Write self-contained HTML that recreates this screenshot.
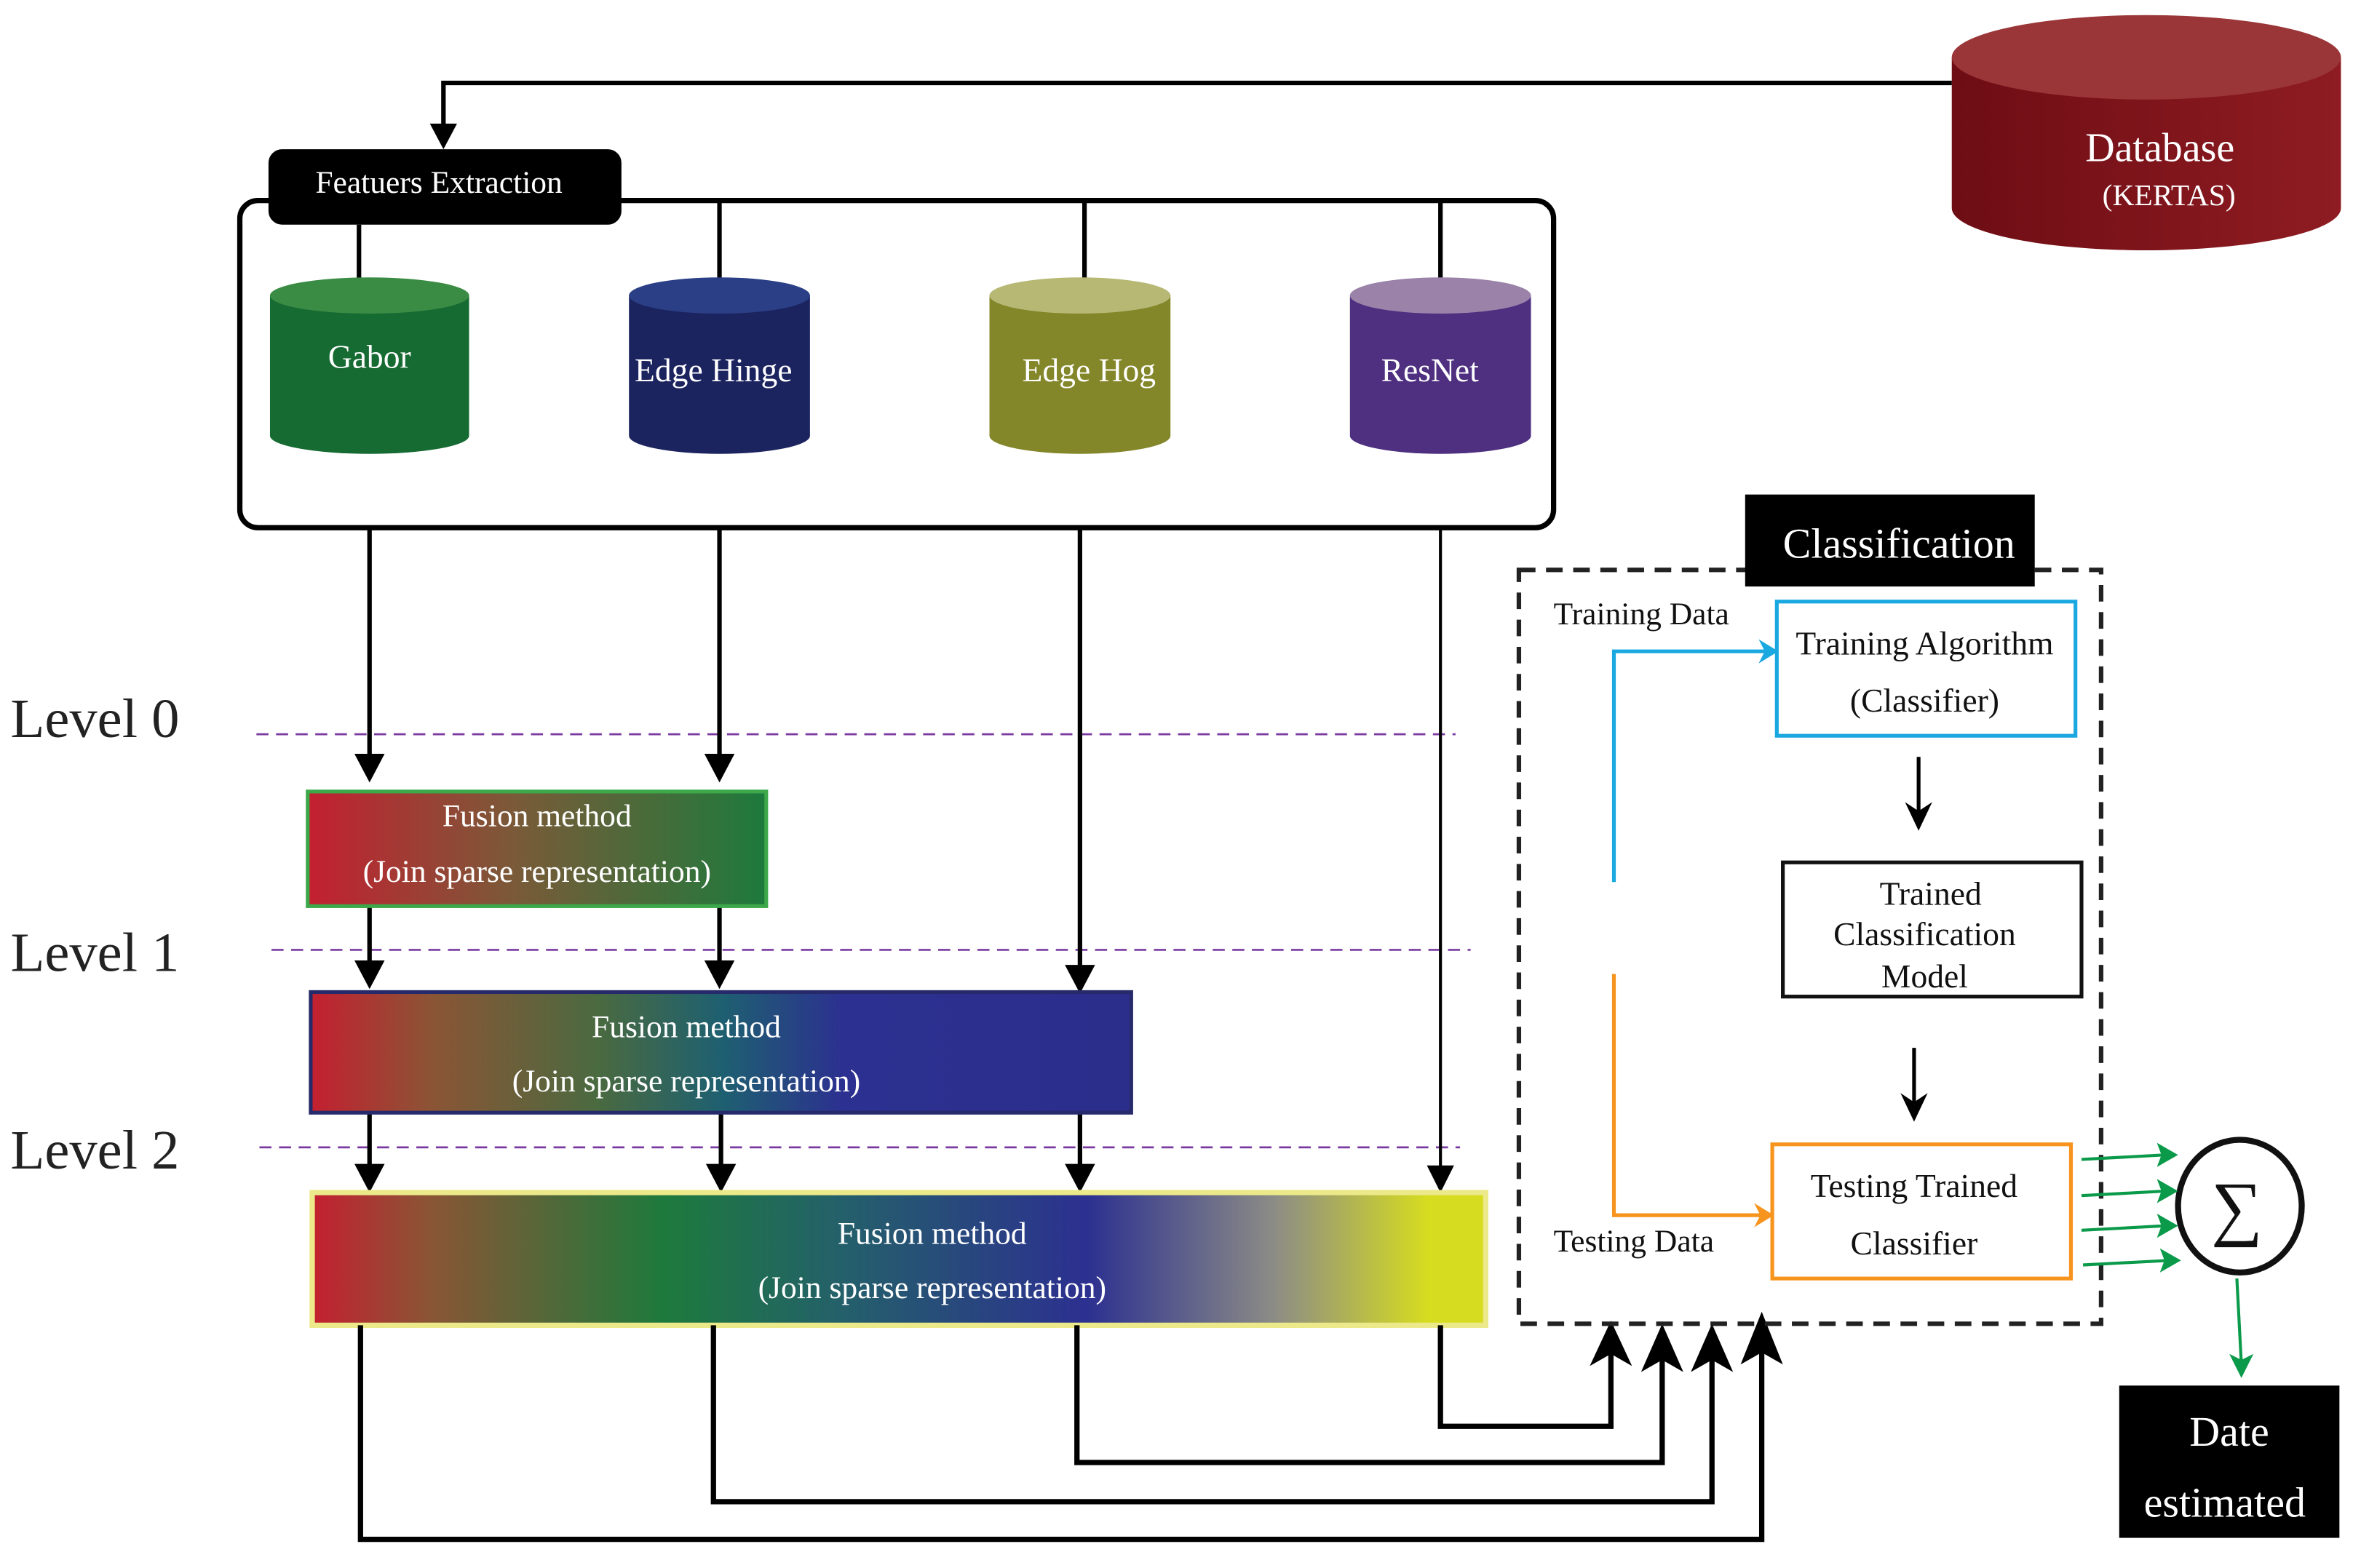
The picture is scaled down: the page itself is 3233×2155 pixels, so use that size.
<!DOCTYPE html>
<html><head><meta charset="utf-8"><style>
html,body{margin:0;padding:0;background:#fff;}
svg{display:block;}
text{font-family:"Liberation Serif",serif;}
</style></head><body>
<svg width="3233" height="2155" viewBox="0 0 1560 1040" preserveAspectRatio="none" xmlns="http://www.w3.org/2000/svg">
<defs>
<linearGradient id="db" x1="0" x2="1"><stop offset="0" stop-color="#6e0d14"/><stop offset="1" stop-color="#8e1c22"/></linearGradient>
<linearGradient id="g1" x1="0" x2="1"><stop offset="0" stop-color="#c41f30"/><stop offset="0.45" stop-color="#7a5a38"/><stop offset="1" stop-color="#1d7a3c"/></linearGradient>
<linearGradient id="g2" x1="0" x2="1"><stop offset="0" stop-color="#c41f30"/><stop offset="0.15" stop-color="#8a5535"/><stop offset="0.35" stop-color="#4a6a40"/><stop offset="0.5" stop-color="#1e6070"/><stop offset="0.65" stop-color="#2c3090"/><stop offset="1" stop-color="#2c2e8c"/></linearGradient>
<linearGradient id="g3" x1="0" x2="1"><stop offset="0" stop-color="#c41f30"/><stop offset="0.1" stop-color="#8a5535"/><stop offset="0.3" stop-color="#1d7a3c"/><stop offset="0.45" stop-color="#24606a"/><stop offset="0.66" stop-color="#2c3090"/><stop offset="0.82" stop-color="#8c8c86"/><stop offset="0.95" stop-color="#d6dc20"/><stop offset="1" stop-color="#d6dc20"/></linearGradient>
</defs>

<path d="M1294,38 L1294,138 A129,28 0 0 0 1552,138 L1552,38 Z" fill="url(#db)"/>
<ellipse cx="1423" cy="38" rx="129" ry="28" fill="#9a3538"/>
<text x="1432" y="107" font-size="27" fill="#fff" text-anchor="middle">Database</text>
<text x="1438" y="136" font-size="20" fill="#fff" text-anchor="middle">(KERTAS)</text>

<polyline points="1294,55 294,55 294,86" fill="none" stroke="#000" stroke-width="3"/>
<polygon points="285,82 303,82 294,99" fill="#000"/>

<rect x="159" y="133" width="871" height="217" rx="12" fill="none" stroke="#000" stroke-width="3.5"/>
<rect x="178" y="99" width="234" height="50" rx="9" fill="#000"/>
<text x="291" y="128" font-size="21" fill="#fff" text-anchor="middle">Featuers Extraction</text>

<g stroke="#000" stroke-width="3">
<line x1="238" y1="149" x2="238" y2="190"/>
<line x1="477" y1="133" x2="477" y2="190"/>
<line x1="719" y1="133" x2="719" y2="190"/>
<line x1="955" y1="133" x2="955" y2="190"/>
</g>

<path d="M179,196 L179,289 A66,12 0 0 0 311,289 L311,196 Z" fill="#166b33"/>
<ellipse cx="245" cy="196" rx="66" ry="12" fill="#3a8c44"/>
<text x="245" y="244" font-size="22" fill="#fff" text-anchor="middle">Gabor</text>

<path d="M417,196 L417,289 A60,12 0 0 0 537,289 L537,196 Z" fill="#1c2460"/>
<ellipse cx="477" cy="196" rx="60" ry="12" fill="#2b3f86"/>
<text x="473" y="253" font-size="22" fill="#fff" text-anchor="middle">Edge Hinge</text>

<path d="M656,196 L656,289 A60,12 0 0 0 776,289 L776,196 Z" fill="#84862a"/>
<ellipse cx="716" cy="196" rx="60" ry="12" fill="#b7b873"/>
<text x="722" y="253" font-size="22" fill="#fff" text-anchor="middle">Edge Hog</text>

<path d="M895,196 L895,289 A60,12 0 0 0 1015,289 L1015,196 Z" fill="#4e2f80"/>
<ellipse cx="955" cy="196" rx="60" ry="12" fill="#9a82a8"/>
<text x="948" y="253" font-size="22" fill="#fff" text-anchor="middle">ResNet</text>

<text x="7" y="489" font-size="37" fill="#222">Level 0</text>
<text x="7" y="644" font-size="37" fill="#222">Level 1</text>
<text x="7" y="775" font-size="37" fill="#222">Level 2</text>
<g stroke="#7a3aa0" stroke-width="1.3" stroke-dasharray="8,5">
<line x1="170" y1="487" x2="965" y2="487"/>
<line x1="180" y1="630" x2="975" y2="630"/>
<line x1="172" y1="761" x2="968" y2="761"/>
</g>

<g stroke="#000" stroke-width="3">
<line x1="245" y1="350" x2="245" y2="505"/>
<line x1="477" y1="350" x2="477" y2="505"/>
<line x1="716" y1="350" x2="716" y2="645"/>
<line x1="955" y1="350" x2="955" y2="778" stroke-width="2"/>
<line x1="245" y1="601" x2="245" y2="642"/>
<line x1="477" y1="601" x2="477" y2="642"/>
<line x1="245" y1="738" x2="245" y2="777"/>
<line x1="478" y1="738" x2="478" y2="777"/>
<line x1="716" y1="738" x2="716" y2="777"/>
</g>
<g fill="#000">
<polygon points="235,500 255,500 245,519"/>
<polygon points="467,500 487,500 477,519"/>
<polygon points="706,640 726,640 716,659"/>
<polygon points="946,773 964,773 955,791"/>
<polygon points="235,637 255,637 245,656"/>
<polygon points="467,637 487,637 477,656"/>
<polygon points="235,772 255,772 245,791"/>
<polygon points="468,772 488,772 478,791"/>
<polygon points="706,772 726,772 716,791"/>
</g>

<rect x="204" y="525" width="304" height="76" fill="url(#g1)" stroke="#3ca84a" stroke-width="2.5"/>
<text x="356" y="548" font-size="21" fill="#fff" text-anchor="middle">Fusion method</text>
<text x="356" y="585" font-size="21" fill="#fff" text-anchor="middle">(Join sparse representation)</text>

<rect x="206" y="658" width="544" height="80" fill="url(#g2)" stroke="#262a6a" stroke-width="2.5"/>
<text x="455" y="688" font-size="21" fill="#fff" text-anchor="middle">Fusion method</text>
<text x="455" y="724" font-size="21" fill="#fff" text-anchor="middle">(Join sparse representation)</text>

<rect x="207" y="791" width="778" height="88" fill="url(#g3)" stroke="#ece98a" stroke-width="3.5"/>
<text x="618" y="825" font-size="21" fill="#fff" text-anchor="middle">Fusion method</text>
<text x="618" y="861" font-size="21" fill="#fff" text-anchor="middle">(Join sparse representation)</text>

<g fill="none" stroke="#000" stroke-width="3.5">
<polyline points="955,879 955,946 1068,946 1068,890"/>
<polyline points="714,879 714,970 1102,970 1102,890"/>
<polyline points="473,879 473,996 1135,996 1135,890"/>
<polyline points="239,879 239,1021 1168,1021 1168,885"/>
</g>
<g fill="#000">
<polygon points="1054,906 1068,876 1082,906 1068,898"/>
<polygon points="1088,910 1102,878 1116,910 1102,902"/>
<polygon points="1121,910 1135,878 1149,910 1135,902"/>
<polygon points="1154,905 1168,870 1182,905 1168,897"/>
</g>

<rect x="1007" y="378" width="386" height="500" fill="none" stroke="#222" stroke-width="3" stroke-dasharray="11,7"/>
<rect x="1157" y="328" width="192" height="61" fill="#000"/>
<text x="1259" y="370" font-size="28" fill="#fff" text-anchor="middle">Classification</text>

<text x="1030" y="414" font-size="21" fill="#111">Training Data</text>
<rect x="1178" y="399" width="198" height="89" fill="none" stroke="#1aa8e0" stroke-width="2.5"/>
<text x="1276" y="434" font-size="22" fill="#111" text-anchor="middle">Training Algorithm</text>
<text x="1276" y="472" font-size="22" fill="#111" text-anchor="middle">(Classifier)</text>
<polyline points="1070,585 1070,432 1172,432" fill="none" stroke="#1aa8e0" stroke-width="2.5"/>
<polygon points="1166,424 1179,432 1166,440 1170,432" fill="#1aa8e0"/>

<line x1="1272" y1="502" x2="1272" y2="540" stroke="#000" stroke-width="2.5"/>
<polygon points="1263,532 1272,551 1281,532 1272,538" fill="#000"/>

<rect x="1182" y="572" width="198" height="89" fill="none" stroke="#111" stroke-width="2.5"/>
<text x="1280" y="600" font-size="22" fill="#111" text-anchor="middle">Trained</text>
<text x="1276" y="627" font-size="22" fill="#111" text-anchor="middle">Classification</text>
<text x="1276" y="655" font-size="22" fill="#111" text-anchor="middle">Model</text>

<line x1="1269" y1="695" x2="1269" y2="732" stroke="#000" stroke-width="2.5"/>
<polygon points="1260,725 1269,744 1278,725 1269,731" fill="#000"/>

<rect x="1175" y="759" width="198" height="89" fill="none" stroke="#f7941d" stroke-width="2.5"/>
<text x="1269" y="794" font-size="22" fill="#111" text-anchor="middle">Testing Trained</text>
<text x="1269" y="832" font-size="22" fill="#111" text-anchor="middle">Classifier</text>
<polyline points="1070,646 1070,806 1169,806" fill="none" stroke="#f7941d" stroke-width="2.5"/>
<polygon points="1163,798 1176,806 1163,814 1167,806" fill="#f7941d"/>
<text x="1030" y="830" font-size="21" fill="#111">Testing Data</text>

<ellipse cx="1485" cy="800" rx="41" ry="44" fill="#fff" stroke="#111" stroke-width="4"/>
<text x="1483" y="817" font-size="48" fill="#111" text-anchor="middle">∑</text>
<g stroke="#0a9a4a" stroke-width="2">
<line x1="1380" y1="769" x2="1436" y2="766"/>
<line x1="1380" y1="793" x2="1436" y2="790"/>
<line x1="1380" y1="816" x2="1436" y2="813"/>
<line x1="1381" y1="839" x2="1438" y2="836"/>
<line x1="1483" y1="848" x2="1486" y2="905"/>
</g>
<g fill="#0a9a4a">
<polygon points="1430,758 1444,766 1430,774 1433,766"/>
<polygon points="1430,782 1444,790 1430,798 1433,790"/>
<polygon points="1430,805 1444,813 1430,821 1433,813"/>
<polygon points="1432,828 1446,836 1432,844 1435,836"/>
<polygon points="1478,898 1486,914 1494,898 1486,902"/>
</g>

<rect x="1405" y="919" width="146" height="101" fill="#000"/>
<text x="1478" y="959" font-size="28" fill="#fff" text-anchor="middle">Date</text>
<text x="1475" y="1006" font-size="28" fill="#fff" text-anchor="middle">estimated</text>
</svg>
</body></html>
